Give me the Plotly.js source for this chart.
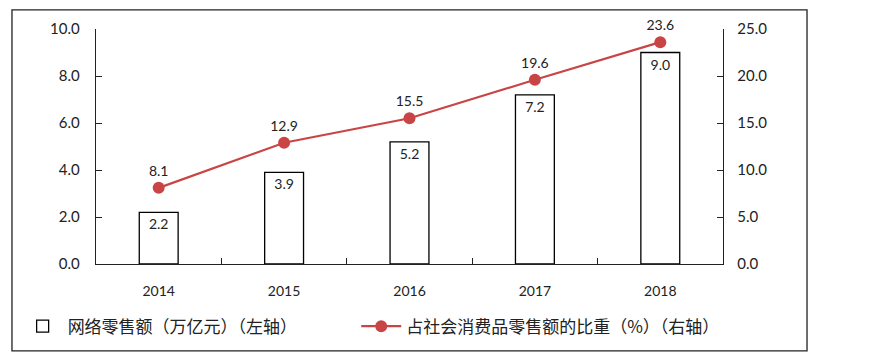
<!DOCTYPE html>
<html><head><meta charset="utf-8">
<script src="https://cdn.plot.ly/plotly-3.0.1.min.js"></script>
<style>html,body{margin:0;padding:0;background:#fff;}</style>
</head><body>
<div id="chart" style="width:873px;height:361px;"></div>
<script>
const years = ['2014','2015','2016','2017','2018'];
const onlineSales = [2.2, 3.9, 5.2, 7.2, 9.0];
const shareOfRetail = [8.1, 12.9, 15.5, 19.6, 23.6];
const barName = '网络零售额（万亿元）（左轴）';
const lineName = '占社会消费品零售额的比重（%）（右轴）';

const numFont = 'Lato, "Liberation Sans", sans-serif';
const cjkFont = '"Noto Sans CJK SC", "Noto Sans", sans-serif';

const traces = [
  {
    type: 'bar', x: years, y: onlineSales, name: barName, legend: 'legend',
    width: 0.31,
    marker: {color: '#ffffff', line: {color: '#000000', width: 1.3}},
    text: onlineSales.map(v => v.toFixed(1)),
    textposition: 'inside', insidetextanchor: 'end',
    textfont: {family: numFont, size: 14, color: '#222'},
    cliponaxis: false, hoverinfo: 'skip'
  },
  {
    type: 'scatter', mode: 'lines+markers+text', x: years, y: shareOfRetail,
    yaxis: 'y2', name: lineName, legend: 'legend2',
    line: {color: '#C94545', width: 2.2},
    marker: {color: '#C94545', size: 12},
    text: shareOfRetail.map(v => v.toFixed(1)),
    textposition: 'top center',
    textfont: {family: numFont, size: 14, color: '#222'},
    cliponaxis: false, hoverinfo: 'skip'
  }
];

const legendCommon = {
  orientation: 'h', xanchor: 'left', y: -0.19, yanchor: 'top',
  font: {family: cjkFont, size: 17, color: '#222'}, itemwidth: 40,
  bgcolor: 'rgba(0,0,0,0)'
};

const layout = {
  width: 873, height: 361,
  margin: {l: 96, r: 150, t: 29, b: 97},
  paper_bgcolor: '#ffffff', plot_bgcolor: '#ffffff',
  showlegend: true,
  legend: Object.assign({}, legendCommon, {x: -0.125}),
  legend2: Object.assign({}, legendCommon, {x: 0.415}),
  xaxis: {
    type: 'category', showline: true, linecolor: '#222', linewidth: 1.3,
    ticks: 'inside', tickson: 'boundaries', ticklen: 6, tickcolor: '#222',
    tickfont: {family: numFont, size: 14, color: '#222'}, showgrid: false,
    ticklabelstandoff: 14
  },
  yaxis: {
    range: [0, 10], dtick: 2, tickformat: '.1f',
    showline: true, linecolor: '#222', linewidth: 1.3,
    ticks: 'inside', ticklen: 6, tickcolor: '#222',
    tickfont: {family: numFont, size: 15, color: '#222'},
    showgrid: false, zeroline: false, ticklabelstandoff: 12
  },
  yaxis2: {
    range: [0, 25], dtick: 5, tickformat: '.1f', overlaying: 'y', side: 'right',
    showline: true, linecolor: '#222', linewidth: 1.3,
    ticks: 'inside', ticklen: 6, tickcolor: '#222',
    tickfont: {family: numFont, size: 15, color: '#222'},
    showgrid: false, zeroline: false, ticklabelstandoff: 10
  },
  shapes: [{
    type: 'rect', xref: 'paper', yref: 'paper',
    x0: -0.134, x1: 1.134, y0: -0.37, y1: 1.081,
    line: {color: '#222', width: 1.3}, fillcolor: 'rgba(0,0,0,0)'
  }]
};

Plotly.newPlot('chart', traces, layout, {staticPlot: true});
</script>
</body></html>
